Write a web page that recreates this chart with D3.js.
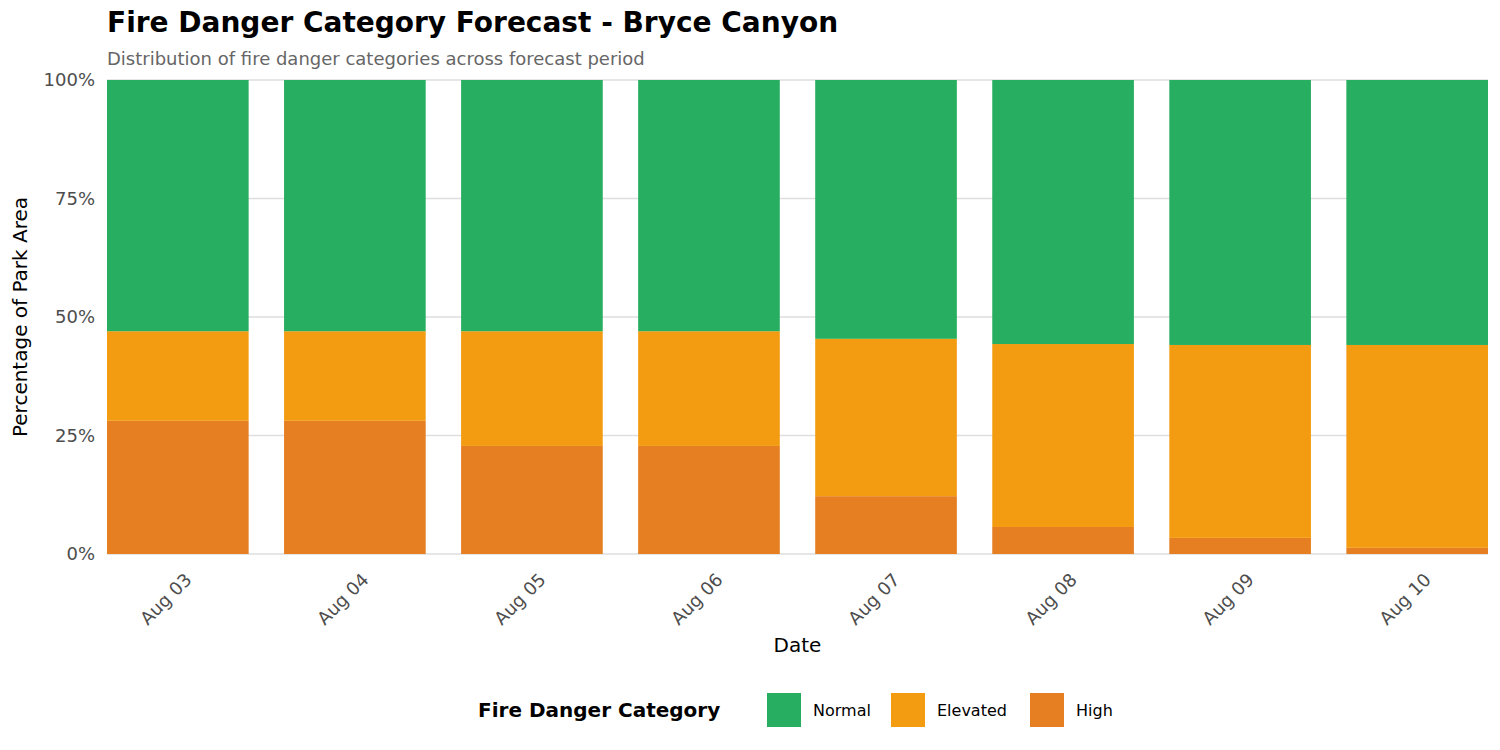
<!DOCTYPE html>
<html><head><meta charset="utf-8">
<script src="https://cdn.jsdelivr.net/npm/d3@7"></script>
<style>body{margin:0;background:#fff;font-family:"DejaVu Sans",sans-serif}</style>
</head><body><svg id="c" width="1500" height="750"></svg>
<script>
const dates = ["Aug 03","Aug 04","Aug 05","Aug 06","Aug 07","Aug 08","Aug 09","Aug 10"];
const high = [28.1,28.1,22.8,22.8,12.2,5.7,3.4,1.3];
const elevated = [18.9,18.9,24.2,24.2,33.2,38.6,40.7,42.8];
const normal = [53.0,53.0,53.0,53.0,54.6,55.7,55.9,55.9];
const categories = ["Normal","Elevated","High"];
const colors = {Normal:"#27ae60",Elevated:"#f39c12",High:"#e67e22"};
const yTicks = [0,25,50,75,100];

const svg = d3.select("#c");
const L=107,R=1488,T=80,B=554;
const x = d3.scaleBand().domain(dates).range([L,R]).paddingInner(0.2).paddingOuter(0);
const y = d3.scaleLinear().domain([0,100]).range([B,T]);

svg.append("g").selectAll("line").data(yTicks).join("line")
 .attr("x1",L).attr("x2",R).attr("y1",d=>y(d)).attr("y2",d=>y(d))
 .attr("stroke","#dedede").attr("stroke-width",1.5);

const rows = dates.map((d,i)=>({date:d,High:high[i],Elevated:elevated[i],Normal:normal[i]}));
const stack = d3.stack().keys(["High","Elevated","Normal"])(rows);
svg.append("g").selectAll("g").data(stack).join("g").attr("fill",s=>colors[s.key])
 .selectAll("rect").data(s=>s).join("rect")
 .attr("x",d=>x(d.data.date)).attr("width",x.bandwidth())
 .attr("y",d=>y(Math.min(d[1],100))).attr("height",d=>y(d[0])-y(Math.min(d[1],100)));

svg.append("g").selectAll("text").data(yTicks).join("text")
 .attr("x",L-12).attr("y",d=>y(d)).attr("dy","0.35em").attr("text-anchor","end")
 .attr("font-size",18).attr("fill","#4d4d4d").text(d=>d+"%");

svg.append("g").selectAll("text").data(dates).join("text")
 .attr("transform",d=>`translate(${x(d)+x.bandwidth()/2+6},${B+18}) rotate(-45)`)
 .attr("text-anchor","end").attr("dy","0.7em").attr("font-size",18).attr("fill","#4d4d4d").text(d=>d);

svg.append("text").attr("x",(L+R)/2).attr("y",652).attr("text-anchor","middle").attr("font-size",20).text("Date");
svg.append("text").attr("transform",`translate(27,${(T+B)/2}) rotate(-90)`).attr("text-anchor","middle").attr("font-size",20).text("Percentage of Park Area");
svg.append("text").attr("x",107).attr("y",32).attr("font-size",28).attr("font-weight","bold").text("Fire Danger Category Forecast - Bryce Canyon");
svg.append("text").attr("x",107).attr("y",65).attr("font-size",18).attr("fill","#666").text("Distribution of fire danger categories across forecast period");

const lg = svg.append("g");
lg.append("text").attr("x",478).attr("y",717).attr("font-size",20).attr("font-weight","bold").text("Fire Danger Category");
const lx=[767,891,1030];
categories.forEach((c,i)=>{
 lg.append("rect").attr("x",lx[i]).attr("y",693).attr("width",34).attr("height",34).attr("fill",colors[c]);
 lg.append("text").attr("x",lx[i]+46).attr("y",716).attr("font-size",16).text(c);
});
</script></body></html>
